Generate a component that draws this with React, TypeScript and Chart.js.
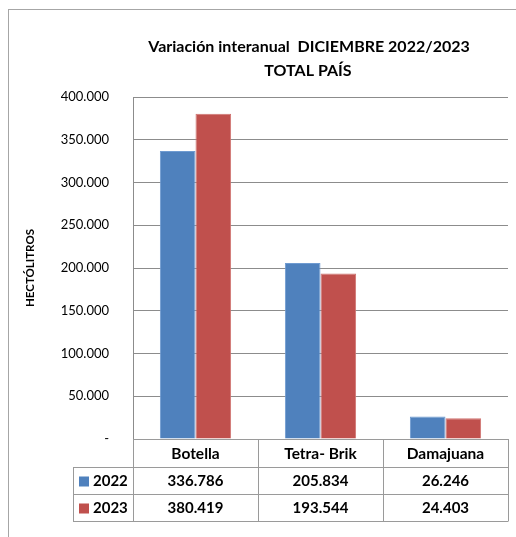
import React, { useEffect, useRef } from "react";
import { Chart, registerables } from "chart.js";

Chart.register(...registerables);

const categories = ["Botella", "Tetra- Brik", "Damajuana"];
const seriesNames = ["2022", "2023"];
const values2022 = [336786, 205834, 26246];
const values2023 = [380419, 193544, 24403];
const valueLabels2022 = ["336.786", "205.834", "26.246"];
const valueLabels2023 = ["380.419", "193.544", "24.403"];
const titleLines = ["Variación interanual  DICIEMBRE 2022/2023", "TOTAL PAÍS"];
const yTitle = "HECTÓLITROS";

const BLUE = "#4F81BD";
const RED = "#C0504D";
const FONT = "Lato, 'Open Sans', sans-serif";

const fmt = (v: number) => {
  if (v === 0) return "-";
  return v.toLocaleString("de-DE");
};

const extrasPlugin = {
  id: "extras",
  afterDraw(chart: any) {
    const ctx = chart.ctx as CanvasRenderingContext2D;
    const area = chart.chartArea;
    ctx.save();
    // outer border
    ctx.strokeStyle = "#a6a6a6";
    ctx.lineWidth = 1;
    ctx.beginPath();
    ctx.moveTo(8, 9.5);
    ctx.lineTo(516, 9.5);
    ctx.moveTo(8.5, 9);
    ctx.lineTo(8.5, 537);
    ctx.stroke();

    // title
    ctx.fillStyle = "#000";
    ctx.font = `bold 16px ${FONT}`;
    ctx.textAlign = "center";
    ctx.textBaseline = "middle";
    ctx.fillText(titleLines[0], 309, 46.5);
    ctx.fillText(titleLines[1], 308, 70.5);

    // table
    const left = area.left;
    const right = area.right;
    const colW = (right - left) / categories.length;
    const top = area.bottom;
    const rows = [top, top + 28, top + 55, top + 82];
    const legendLeft = 73;
    ctx.strokeStyle = "#9a9a9a";
    ctx.beginPath();
    ctx.moveTo(left, rows[0] + 0.5);
    ctx.lineTo(right, rows[0] + 0.5);
    for (let i = 1; i < rows.length; i++) {
      ctx.moveTo(legendLeft, rows[i] + 0.5);
      ctx.lineTo(right, rows[i] + 0.5);
    }
    for (let c = 0; c <= categories.length; c++) {
      const x = Math.round(left + c * colW) + 0.5;
      ctx.moveTo(x, rows[0]);
      ctx.lineTo(x, rows[3] + 0.5);
    }
    ctx.moveTo(legendLeft + 0.5, rows[1]);
    ctx.lineTo(legendLeft + 0.5, rows[3] + 0.5);
    ctx.stroke();

    ctx.fillStyle = "#000";
    ctx.textAlign = "center";
    ctx.textBaseline = "middle";
    categories.forEach((c, i) => {
      const cx = left + (i + 0.5) * colW;
      ctx.font = `bold 15.5px ${FONT}`;
      ctx.fillText(c, cx, (rows[0] + rows[1]) / 2 + 1);
      ctx.font = `bold 15px ${FONT}`;
      ctx.fillText(valueLabels2022[i], cx, (rows[1] + rows[2]) / 2 + 1);
      ctx.fillText(valueLabels2023[i], cx, (rows[2] + rows[3]) / 2 + 1);
    });
    const colors = [BLUE, RED];
    seriesNames.forEach((s, i) => {
      const cy = (rows[i + 1] + rows[i + 2]) / 2 + 1;
      ctx.fillStyle = colors[i];
      ctx.fillRect(79, cy - 5, 10, 10);
      ctx.fillStyle = "#000";
      ctx.textAlign = "left";
      ctx.font = `bold 15px ${FONT}`;
      ctx.fillText(s, 93, cy);
    });
    ctx.restore();
  },
};

export default function App() {
  const ref = useRef<HTMLCanvasElement | null>(null);
  useEffect(() => {
    if (!ref.current) return;
    const chart = new Chart(ref.current, {
      type: "bar",
      data: {
        labels: categories,
        datasets: [
          {
            label: seriesNames[0],
            data: values2022,
            backgroundColor: BLUE,
            borderColor: "#6f9bd1",
            borderWidth: { top: 1, left: 1, right: 1, bottom: 0 },
            barPercentage: 1,
            categoryPercentage: 0.57,
          },
          {
            label: seriesNames[1],
            data: values2023,
            backgroundColor: RED,
            borderColor: "#d07472",
            borderWidth: { top: 1, left: 1, right: 1, bottom: 0 },
            barPercentage: 1,
            categoryPercentage: 0.57,
          },
        ],
      },
      options: {
        animation: false,
        responsive: true,
        maintainAspectRatio: false,
        layout: { padding: { left: 19, right: 8, top: 97, bottom: 98 } },
        plugins: {
          legend: { display: false },
          title: { display: false },
          tooltip: { enabled: false },
        },
        scales: {
          x: { display: false },
          y: {
            min: 0,
            max: 400000,
            afterFit: (scale: any) => {
              scale.width = 114;
            },
            ticks: {
              stepSize: 50000,
              padding: 24,
              color: "#000",
              font: { family: FONT, size: 13 },
              callback: (v: any) => fmt(Number(v)),
            },
            grid: { color: "#8c8c8c", drawTicks: false },
            border: { color: "#8c8c8c" },
            title: {
              display: true,
              text: yTitle,
              color: "#000",
              font: { family: FONT, size: 11.5, weight: "bold" },
              padding: { top: 4, bottom: 0 },
            },
          },
        },
      },
      plugins: [extrasPlugin],
    });
    return () => chart.destroy();
  }, []);
  return (
    <div style={{ position: "fixed", left: 0, top: 0, width: 516, height: 537, background: "#fff" }}>
      <canvas ref={ref} />
    </div>
  );
}
